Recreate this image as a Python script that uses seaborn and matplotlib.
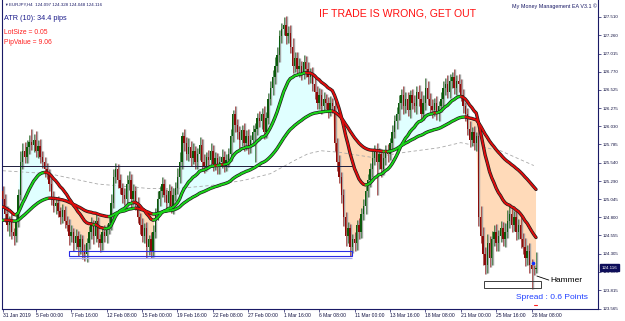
import numpy as np
import pandas as pd
import matplotlib
matplotlib.use("Agg")
import matplotlib.pyplot as plt
import seaborn as sns
from matplotlib.collections import LineCollection
from matplotlib.patches import Rectangle
import matplotlib.transforms as mtransforms

# ---------------- data ----------------
close = [
    125.05, 124.85, 124.70, 124.75, 124.60, 124.55, 124.75, 125.10, 125.55, 125.70,
    125.62, 125.75, 125.82, 125.78, 125.85, 125.70, 125.76, 125.62, 125.55, 125.45,
    125.40, 125.25, 125.05, 124.95, 125.00, 124.88, 124.80, 124.90, 124.75, 124.70,
    124.55, 124.60, 124.45, 124.55, 124.40, 124.50, 124.35, 124.30, 124.45, 124.60,
    124.70, 124.55, 124.75, 124.50, 124.45, 124.60, 124.55, 124.65, 124.72, 125.00,
    125.35, 125.45, 125.30, 125.20, 125.10, 125.05, 125.25, 125.30, 125.05, 125.15,
    125.00, 124.80, 124.70, 124.55, 124.65, 124.40, 124.50, 124.35, 124.60, 124.85,
    125.05, 125.15, 125.25, 125.10, 125.00, 125.15, 124.95, 125.10, 125.20, 125.35,
    125.55, 125.90, 125.80, 125.65, 125.75, 125.60, 125.70, 125.55, 125.65, 125.78,
    125.55, 125.50, 125.62, 125.58, 125.70, 125.52, 125.60, 125.48, 125.55, 125.62,
    125.50, 125.58, 125.65, 125.90, 126.20, 126.05, 125.95, 125.85, 125.98, 125.80,
    125.90, 125.75, 125.85, 125.95, 126.00, 126.15, 126.10, 126.20, 125.95, 126.15,
    126.40, 126.55, 126.70, 126.85, 127.00, 127.25, 127.35, 127.40, 127.25, 127.30,
    127.10, 126.85, 126.95, 126.80, 126.85, 126.75, 126.90, 126.80, 126.70, 126.75,
    126.60, 126.50, 126.35, 126.45, 126.30, 126.40, 126.35, 126.25, 126.35, 126.30,
    125.80, 125.55, 125.35, 125.10, 124.80, 124.55, 124.65, 124.40, 124.50, 124.45,
    124.70, 124.60, 124.85, 124.95, 125.15, 125.30, 125.45, 125.60, 125.70, 125.55,
    125.65, 125.45, 125.60, 125.70, 125.65, 125.80, 125.95, 126.10, 126.20, 126.35,
    126.45, 126.30, 126.40, 126.25, 126.45, 126.35, 126.30, 126.50, 126.40, 126.20,
    126.35, 126.55, 126.40, 126.30, 126.25, 126.35, 126.20, 126.30, 126.40, 126.55,
    126.60, 126.50, 126.65, 126.70, 126.55, 126.65, 126.60, 126.45, 126.30, 126.20,
    126.00, 125.85, 125.95, 125.80, 125.90, 124.80, 124.55, 124.30, 124.15, 124.45,
    124.25, 124.50, 124.60, 124.45, 124.55, 124.65, 124.50, 124.60, 124.75, 124.85,
    124.70, 124.80, 124.60, 124.70, 124.50, 124.40, 124.25, 124.35, 124.15, 124.10,
    124.097, 124.116,
]
upper_wick_pips = [
    8, 6, 10, 7, 9, 5, 12, 8, 15, 10,
    12, 9, 10, 17, 8, 12, 9, 10, 8, 7,
    9, 6, 8, 10, 7, 9, 6, 8, 5, 7,
    8, 10, 6, 9, 7, 8, 6, 9, 7, 8,
    10, 7, 9, 6, 8, 7, 9, 6, 8, 12,
    10, 9, 7, 8, 6, 9, 12, 13, 8, 10,
    7, 8, 6, 9, 7, 8, 6, 10, 9, 8,
    10, 8, 9, 7, 8, 10, 7, 9, 8, 12,
    14, 6, 10, 9, 12, 8, 10, 7, 9, 11,
    8, 10, 7, 9, 10, 8, 9, 7, 8, 10,
    8, 7, 9, 10, 5, 10, 8, 9, 7, 10,
    8, 9, 7, 10, 8, 6, 9, 8, 10, 7,
    8, 10, 9, 12, 10, 9, 8, 11, 12, 9,
    10, 12, 8, 9, 10, 7, 9, 8, 10, 7,
    8, 9, 7, 10, 8, 9, 7, 8, 9, 6,
    8, 7, 9, 6, 8, 7, 9, 6, 8, 10,
    7, 9, 8, 10, 7, 9, 8, 12, 8, 10,
    9, 7, 10, 8, 9, 7, 10, 8, 9, 10,
    8, 12, 9, 10, 7, 9, 10, 8, 9, 11,
    10, 13, 9, 8, 10, 7, 9, 8, 10, 9,
    8, 12, 9, 6, 10, 8, 9, 7, 8, 6,
    8, 10, 7, 9, 6, 10, 15, 12, 10, 13,
    10, 12, 9, 11, 8, 10, 9, 12, 15, 13,
    10, 9, 12, 8, 10, 9, 12, 8, 10, 8,
    6, 21.2,
]
lower_wick_pips = [
    10, 12, 8, 15, 10, 12, 9, 8, 7, 10,
    9, 8, 10, 7, 9, 8, 10, 9, 8, 10,
    8, 10, 9, 8, 10, 7, 9, 8, 10, 9,
    12, 9, 10, 8, 12, 10, 11, 9, 10, 8,
    9, 11, 8, 10, 12, 9, 8, 10, 7, 9,
    8, 9, 10, 8, 11, 9, 10, 8, 12, 9,
    10, 8, 12, 9, 10, 15, 11, 10, 9, 8,
    9, 10, 8, 9, 10, 8, 9, 10, 8, 9,
    8, 9, 10, 8, 9, 10, 8, 9, 10, 8,
    9, 10, 8, 9, 7, 10, 8, 9, 10, 8,
    9, 8, 10, 9, 8, 10, 9, 11, 8, 10,
    9, 10, 8, 9, 40, 9, 8, 10, 9, 8,
    9, 8, 10, 9, 8, 10, 9, 8, 10, 9,
    8, 10, 9, 8, 10, 9, 8, 10, 9, 8,
    9, 10, 8, 9, 10, 8, 9, 10, 8, 9,
    10, 12, 9, 10, 12, 14, 10, 12, 9, 10,
    9, 10, 8, 9, 10, 8, 9, 10, 9, 45,
    9, 10, 8, 9, 10, 8, 9, 8, 10, 9,
    8, 10, 9, 8, 10, 9, 8, 10, 9, 8,
    9, 10, 8, 9, 10, 8, 9, 10, 8, 9,
    10, 8, 9, 10, 8, 9, 10, 8, 9, 10,
    9, 10, 8, 9, 10, 12, 10, 14, 12, 10,
    12, 10, 9, 11, 10, 8, 9, 10, 8, 9,
    10, 9, 11, 10, 12, 10, 11, 9, 10, 27,
    8, 4.9,
]
first_open = 125.15
fast_seed = 124.93
slow_seed = 124.75
fast_period = 21
slow_period = 65

long_ma_bars = [0, 21, 43, 66, 79, 94, 109, 121, 132, 138, 144, 152, 167, 182, 197, 207, 225, 240]
long_ma_vals = [125.43, 125.39, 125.25, 125.19, 125.19, 125.23, 125.30, 125.39, 125.57, 125.66,
                125.70, 125.68, 125.61, 125.68, 125.74, 125.81, 125.70, 125.50]

h_line_level = 125.49
h_line_start, h_line_end = -0.25, 158
zone_start, zone_end, zone_low, zone_high = 30, 158, 124.275, 124.345
box_start, box_end, box_low, box_high = 217.3, 243.2, 123.84, 123.94

y_ticks = [127.510, 127.260, 127.015, 126.770, 126.525, 126.275, 126.030, 125.785, 125.540,
           125.290, 125.045, 124.800, 124.555, 124.305, 124.060, 123.815, 123.565]
x_tick_bars = [0, 15, 31, 47, 63, 79, 95, 111, 127, 143, 159, 175, 191, 207, 223, 239]
x_tick_labels = ["31 Jan 2019", "5 Feb 00:00", "7 Feb 16:00", "12 Feb 08:00", "15 Feb 00:00",
                 "19 Feb 16:00", "22 Feb 08:00", "27 Feb 00:00", "1 Mar 16:00", "6 Mar 08:00",
                 "11 Mar 00:00", "13 Mar 16:00", "18 Mar 08:00", "21 Mar 00:00", "25 Mar 16:00",
                 "28 Mar 08:00"]
current_price = 124.116

# ---------------- derived series ----------------
sns.set_style("white")
plt.rcParams['font.family'] = ['Liberation Sans', 'DejaVu Sans']

n = len(close)
bars = np.arange(n)
c = np.array(close, dtype=float)
o = np.concatenate([[first_open], c[:-1]])
h = np.maximum(o, c) + np.array(upper_wick_pips) / 100.0
l = np.minimum(o, c) - np.array(lower_wick_pips) / 100.0
fast = pd.Series([fast_seed] + list(c)).ewm(span=fast_period, adjust=False).mean().values[1:]
slow = pd.Series([slow_seed] + list(c)).ewm(span=slow_period, adjust=False).mean().values[1:]

NAVY = '#1a1a66'

fig = plt.figure(figsize=(6.25, 3.21), dpi=100)
fig.patch.set_facecolor('white')
ax = fig.add_axes([2 / 625, 12 / 321, 596 / 625, 309 / 321])
ax.set_facecolor('white')
ax.set_xlim(-0.25, 269.0)
ax.set_ylim(123.559, 127.74)

# fills between close and slow MA
ax.fill_between(bars, c, slow, where=c >= slow, interpolate=True, color='#E0FFFF', lw=0, zorder=1)
ax.fill_between(bars, c, slow, where=c < slow, interpolate=True, color='#FFDAB9', lw=0, zorder=1)

# long MA (dashed gray)
sns.lineplot(x=long_ma_bars, y=long_ma_vals, ax=ax, color='#a8a8a8', lw=0.6,
             linestyle=(0, (4, 3)), zorder=2, legend=False)

# candles
bull = c >= o
body_col = np.where(bull, '#0b5a0b', '#8b0a0a')
ax.vlines(bars + 0.45, l, h, color='#a6a6a6', lw=1.0, zorder=3)
ax.vlines(bars, l, h, colors=body_col, lw=0.45, zorder=3.5)
heights = np.maximum(np.abs(c - o), 0.008)
ax.bar(bars, heights, bottom=np.minimum(o, c), width=0.62, color=body_col, lw=0, zorder=4)

# horizontal level line
ax.hlines(h_line_level, h_line_start, h_line_end, color='#1c1c3c', lw=0.7, zorder=4.5)

# moving averages with slope colouring
def slope_line(vals):
    sns.lineplot(x=bars, y=vals, ax=ax, color='#202020', lw=2.4, zorder=5, legend=False)
    pts = np.column_stack([bars, vals])
    segs = np.stack([pts[:-1], pts[1:]], axis=1)
    cols = np.where(np.diff(vals) >= 0, '#18d418', '#e00c0c')
    lc = LineCollection(segs, colors=cols, lw=1.35, zorder=6, capstyle='round')
    ax.add_collection(lc)

slope_line(slow)
slope_line(fast)

# zone rectangles
ax.add_patch(Rectangle((zone_start, zone_low), zone_end - zone_start, zone_high - zone_low,
                       fill=False, ec='#2a2ae6', lw=0.8, zorder=7))
ax.hlines(zone_low - 0.02, zone_start, zone_end, color='#a8a8f0', lw=0.9, zorder=7)
ax.add_patch(Rectangle((box_start, box_low), box_end - box_start, box_high - box_low,
                       fill=False, ec='#3c3c3c', lw=0.7, zorder=7))

# hammer annotation
ax.plot([241.4, 246.8], [124.005, 123.95], color='black', lw=0.6, zorder=8)
ax.text(247.3, 123.95, "Hammer", fontsize=6, color='black', va='center', ha='left', zorder=8)
ax.plot([239.6], [124.18], marker='o', ms=1.6, color='#1030ff', zorder=8)
ax.plot([239.9, 241.3], [123.61, 123.61], color='#ff2020', lw=0.8, zorder=8)
ax.text(264.4, 123.72, "Spread : 0.6 Points", fontsize=6, color='#2040ff',
        va='center', ha='right', zorder=8)

# axes styling
for s in ['left', 'bottom', 'right']:
    ax.spines[s].set_color(NAVY)
    ax.spines[s].set_linewidth(0.8)
ax.spines['top'].set_visible(False)
ax.yaxis.tick_right()
ax.set_yticks(y_ticks)
ax.set_yticklabels([f"{v:.3f}" for v in y_ticks])
ax.set_xticks(x_tick_bars)
ax.set_xticklabels(x_tick_labels, ha='left')
ax.tick_params(axis='y', which='both', right=True, left=False, length=2, width=0.5,
               color=NAVY, labelsize=3.2, labelcolor='#101040', pad=1.5)
ax.tick_params(axis='x', which='both', bottom=True, length=2, width=0.5,
               color=NAVY, labelsize=3.6, labelcolor='#101040', pad=1.2)
ax.set_xlabel("")
ax.set_ylabel("")

# current price label
trans = mtransforms.blended_transform_factory(ax.transAxes, ax.transData)
ax.text(1.006, current_price, f"{current_price:.3f}", transform=trans, fontsize=3.2,
        color='white', va='center', ha='left', clip_on=False, zorder=10,
        bbox=dict(boxstyle='square,pad=0.35', fc='#0e0e5a', ec='#0e0e5a'))

# header texts
def ftext(x, y, s, **kw):
    fig.text(x / 625, 1 - y / 321, s, va='center', **kw)

ftext(4, 5, "\u25bc", fontsize=2.6, color=NAVY)
ftext(9, 5, "EURJPY,H4  124.097 124.328 124.048 124.116", fontsize=3.2, color=NAVY)
ftext(4, 18, "ATR (10): 34.4 pips", fontsize=5.2, color='#1a1a8a')
ftext(4, 33, "LotSize = 0.05", fontsize=4.9, color='#ff2020')
ftext(4, 42, "PipValue = 9.06", fontsize=4.9, color='#ff2020')
ftext(397.5, 13, "IF TRADE IS WRONG, GET OUT", fontsize=7.6, color='#ff1010', ha='center')
ftext(597, 6, "My Money Management EA V3.1 \u00a9", fontsize=3.9, color=NAVY, ha='right')

fig.savefig("out.png", dpi=100, facecolor='white')
